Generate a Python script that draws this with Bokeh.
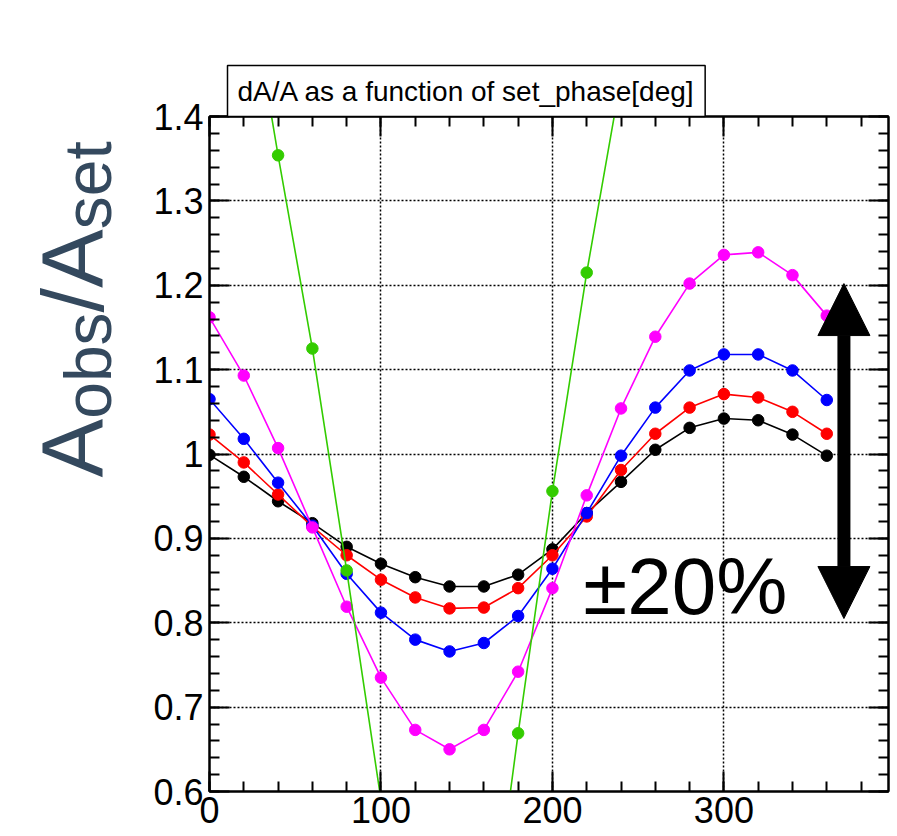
from math import pi
import numpy as np
from bokeh.plotting import figure
from bokeh.layouts import row
from bokeh.models import Range1d, FixedTicker, LinearAxis, Label, Arrow, NormalHead
from bokeh.embed import file_html
from bokeh.resources import INLINE

# ---------------- data ----------------
set_phase = [0, 20, 40, 60, 80, 100, 120, 140, 160, 180, 200, 220, 240, 260, 280, 300, 320, 340, 360]
ratio_black = [0.999, 0.973, 0.944, 0.918, 0.890, 0.870, 0.854, 0.843, 0.843, 0.857, 0.887, 0.930, 0.967, 1.005, 1.031, 1.042, 1.040, 1.023, 0.998]
ratio_red = [1.023, 0.990, 0.952, 0.914, 0.880, 0.851, 0.830, 0.817, 0.818, 0.841, 0.880, 0.926, 0.981, 1.024, 1.055, 1.071, 1.067, 1.050, 1.024]
ratio_blue = [1.065, 1.018, 0.966, 0.915, 0.858, 0.812, 0.780, 0.766, 0.776, 0.808, 0.864, 0.930, 0.998, 1.055, 1.099, 1.118, 1.118, 1.099, 1.064]
ratio_magenta = [1.162, 1.093, 1.007, 0.913, 0.819, 0.735, 0.673, 0.650, 0.673, 0.742, 0.841, 0.951, 1.054, 1.139, 1.202, 1.236, 1.239, 1.212, 1.164]
ratio_green = [1.76, 1.596, 1.354, 1.125, 0.862, 0.590, 0.400, 0.330, 0.362, 0.669, 0.956, 1.215, 1.446, 1.63, 1.74, 1.79, 1.80, 1.78, 1.76]

x_major_ticks = [0, 100, 200, 300]
y_major_ticks = [0.6, 0.7, 0.8, 0.9, 1.0, 1.1, 1.2, 1.3, 1.4]
y_tick_labels = ["0.6", "0.7", "0.8", "0.9", "1", "1.1", "1.2", "1.3", "1.4"]

title_text = "dA/A as a function of set_phase[deg]"
ylabel_parts = ["A", "obs", "/A", "set"]
band_text = "\u00b120%"
band_low, band_high = 0.805, 1.202

FONT = "Liberation Sans"
LW = 140   # width of the y-label strip
H = 836
FRAME_TOP, FRAME_BOTTOM = 116, 791

# ---------------- y-label strip ----------------
# its frame is aligned with the main plot's frame by the row layout,
# so map strip y to "canvas height minus canvas y"
lab = figure(width=LW, height=H, output_backend="svg", toolbar_location=None,
             x_range=Range1d(0, LW), y_range=Range1d(H - FRAME_BOTTOM, H - FRAME_TOP),
             min_border=0, x_axis_location=None, y_axis_location=None)
lab.outline_line_color = None
lab.grid.visible = False
lab.background_fill_color = "white"
lab.border_fill_color = "white"
ycol = "#34495e"
S, s = 88, 66
# (size, anchor x, start y) in strip pixels, y measured upward
ylab_pos = [(S, 72, 359), (s, 87.6, 417.7), (S, 72, 524.1), (s, 87.6, 607.3)]
for txt, (fs, xs, ys) in zip(ylabel_parts, ylab_pos):
    lab.add_layout(Label(x=xs, y=ys, text=txt, text_font=FONT, text_font_size=f"{fs}px",
                         text_color=ycol, angle=pi / 2, text_align="left",
                         text_baseline="alphabetic"))

# ---------------- main figure ----------------
p = figure(width=897 - LW, height=H, output_backend="svg", toolbar_location=None,
           x_range=Range1d(0, 396), y_range=Range1d(0.6, 1.4),
           min_border_left=209 - LW, min_border_right=9, min_border_top=FRAME_TOP,
           min_border_bottom=H - FRAME_BOTTOM,
           x_axis_location=None, y_axis_location=None)
p.background_fill_color = "white"
p.border_fill_color = "white"
p.outline_line_color = "black"
p.outline_line_width = 2

p.title.text = title_text
p.title.text_font = FONT
p.title.text_font_size = "28px"
p.title.text_font_style = "normal"
p.title.text_color = "black"
p.title.align = "left"
p.title.vertical_align = "bottom"
p.title.offset = 18
p.title.standoff = 0
p.title.border_line_color = "black"
p.title.border_line_width = 1.5
p.title.background_fill_color = "white"
p.title.padding = 10

x_minor = list(np.arange(0, 400, 20))
y_minor = [round(v, 3) for v in np.arange(0.6, 1.4001, 0.02)]
xt = FixedTicker(ticks=x_major_ticks, minor_ticks=x_minor)
yt = FixedTicker(ticks=y_major_ticks, minor_ticks=y_minor)

def style_axis(ax, labels=True):
    ax.axis_line_width = 2
    ax.axis_line_color = "black"
    ax.major_tick_in = 20
    ax.major_tick_out = 0
    ax.minor_tick_in = 10
    ax.minor_tick_out = 0
    ax.major_tick_line_width = 2
    ax.minor_tick_line_width = 2
    ax.major_tick_line_color = "black"
    ax.minor_tick_line_color = "black"
    if labels:
        ax.major_label_text_font = FONT
        ax.major_label_text_font_size = "36px"
        ax.major_label_text_color = "black"
    else:
        ax.major_label_text_font_size = "1px"
        ax.major_label_text_color = None
        ax.major_label_standoff = 0

xb = LinearAxis(ticker=xt)
style_axis(xb)
xb.major_label_standoff = 5
p.add_layout(xb, "below")

yl = LinearAxis(ticker=yt)
style_axis(yl)
yl.major_label_standoff = 6
yl.major_label_overrides = {v: t for v, t in zip(y_major_ticks, y_tick_labels)}
p.add_layout(yl, "left")

xa = LinearAxis(ticker=xt)
style_axis(xa, labels=False)
xa.major_label_standoff = 50   # keeps the title box away from the frame
p.add_layout(xa, "above")
yr = LinearAxis(ticker=yt)
style_axis(yr, labels=False)
p.add_layout(yr, "right")

p.xgrid.ticker = xt
p.ygrid.ticker = yt
for g in (p.xgrid, p.ygrid):
    g.grid_line_color = "black"
    g.grid_line_width = 1.5
    g.grid_line_dash = "2 2"

# ---------------- series ----------------
series = [
    (ratio_black, "black"),
    (ratio_red, "#ff0000"),
    (ratio_blue, "#0000ff"),
    (ratio_magenta, "#ff00ff"),
    (ratio_green, "#33cc00"),
]
for vals, col in series:
    p.line(set_phase, vals, line_color=col, line_width=1.6)
    p.scatter(set_phase, vals, marker="circle", size=11.5, fill_color=col, line_color=col)

# ---------------- annotations ----------------
p.add_layout(Arrow(x_start=370, y_start=band_low, x_end=370, y_end=band_high,
                   line_color="black", line_width=13,
                   start=NormalHead(size=52, fill_color="black", line_color="black"),
                   end=NormalHead(size=52, fill_color="black", line_color="black")))

p.add_layout(Label(x=218, y=0.843, text=band_text, text_font=FONT, text_font_size="80px",
                   text_color="black", text_align="left", text_baseline="alphabetic"))

layout = row(lab, p, spacing=0)
open("out.html", "w").write(file_html(layout, INLINE))
